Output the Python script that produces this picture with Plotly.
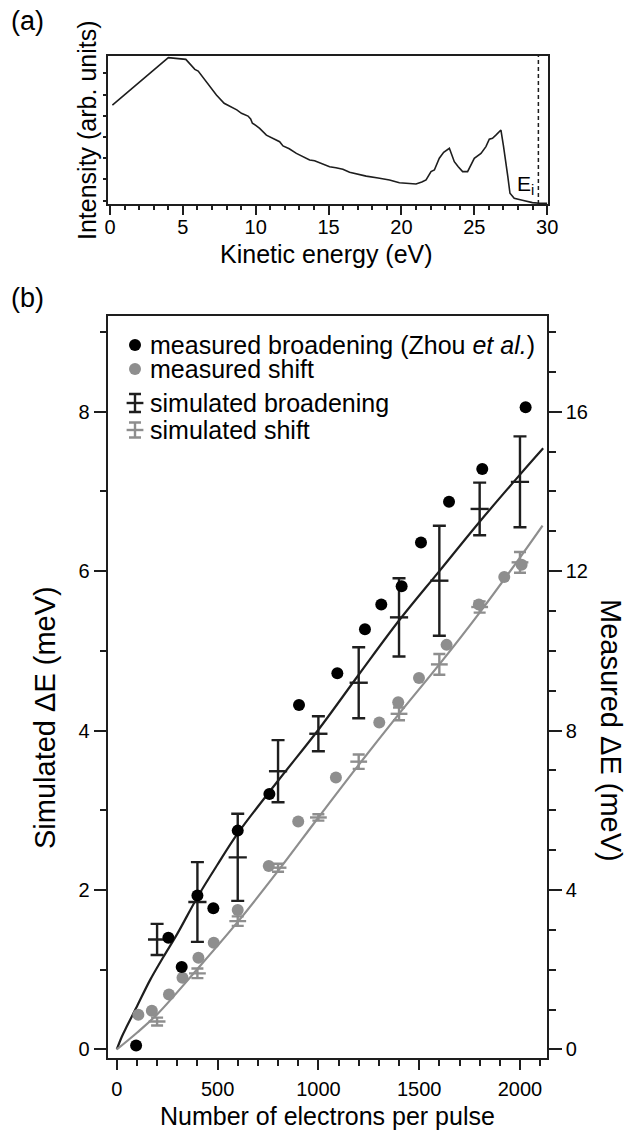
import plotly.graph_objects as go

# ---------------- data ----------------
# panel (a): photoemission spectrum
energy_eV = [0.16, 4.0, 5.2, 5.5, 5.82, 6.05, 6.4, 6.85, 7.3, 7.83, 8.33, 8.7, 9.02, 9.3, 9.47,
             9.65, 9.77, 10.0, 10.27, 10.73, 11.2, 11.64, 11.87, 12.3, 12.79, 13.2, 13.7, 14.04,
             14.5, 15.07, 15.5, 15.98, 16.44, 17.0, 17.58, 18.4, 19.18, 19.86, 20.55, 21.0, 21.4,
             21.69, 22.03, 22.26, 22.6, 22.9, 23.29, 23.63, 23.9, 24.2, 24.54, 24.77, 25.0, 25.46,
             25.8, 26.03, 26.25, 26.5, 26.83, 27.0, 27.12, 27.3, 27.45, 27.74, 28.3, 28.99, 29.5, 30.0]
intensity = [4.51, 6.74, 6.66, 6.45, 6.19, 6.11, 5.78, 5.37, 4.98, 4.59, 4.43, 4.28, 4.12, 4.05, 3.99,
             3.85, 3.65, 3.55, 3.41, 3.09, 2.93, 2.78, 2.58, 2.45, 2.23, 2.08, 1.92, 1.88,
             1.75, 1.60, 1.55, 1.48, 1.34, 1.25, 1.16, 1.07, 0.98, 0.85, 0.82, 0.79, 0.88,
             0.98, 1.37, 1.45, 2.00, 2.28, 2.47, 1.84, 1.60, 1.37, 1.37, 1.68, 2.00, 2.23,
             2.55, 2.90, 2.94, 3.10, 3.33, 2.60, 2.07, 1.15, 0.35, 0.11, 0.02, -0.09, -0.12, -0.12]
E_i = 29.4
a_yticks = [0, 1, 2, 3, 4, 5, 6]

# panel (b)
meas_broad_n = [96, 256, 322, 400, 479, 600, 757, 904, 1094, 1231, 1312, 1413, 1509, 1648, 1813, 2028]
meas_broad_dE = [0.10, 2.80, 2.07, 3.86, 3.54, 5.49, 6.41, 8.64, 9.44, 10.54, 11.16, 11.62, 12.72,
                 13.74, 14.56, 16.11]
meas_shift_n = [107, 174, 259, 326, 405, 481, 600, 754, 900, 1087, 1302, 1396, 1499, 1636, 1796, 1922, 2008]
meas_shift_dE = [0.87, 0.97, 1.38, 1.80, 2.30, 2.68, 3.50, 4.60, 5.72, 6.82, 8.20, 8.71, 9.32, 10.15,
                 11.16, 11.85, 12.16]

sim_n = [200, 400, 600, 800, 1000, 1200, 1400, 1600, 1800, 2000]
sim_broad = [1.38, 1.85, 2.41, 3.49, 3.96, 4.60, 5.42, 5.88, 6.78, 7.12]
sim_broad_err = [0.195, 0.50, 0.546, 0.39, 0.22, 0.445, 0.49, 0.69, 0.33, 0.57]
sim_shift = [0.35, 0.955, 1.61, 2.28, 2.91, 3.61, 4.21, 4.83, 5.55, 6.11]
sim_shift_err = [0.05, 0.06, 0.06, 0.05, 0.04, 0.09, 0.08, 0.13, 0.07, 0.13]

fit_broad_n = [0, 25, 50, 100, 165, 231, 300, 400, 500, 600, 800, 1000, 1200, 1400, 1600, 1800, 2000, 2115]
fit_broad = [0, 0.16, 0.29, 0.54, 0.87, 1.16, 1.45, 1.91, 2.32, 2.71, 3.37, 4.01, 4.70, 5.38, 6.00,
             6.62, 7.21, 7.54]
fit_shift_n = [0, 100, 200, 400, 600, 800, 1000, 1200, 1400, 1600, 1800, 2000, 2112]
fit_shift = [0, 0.21, 0.44, 1.01, 1.60, 2.24, 2.91, 3.57, 4.21, 4.83, 5.48, 6.17, 6.57]

legend_labels = ["measured broadening (Zhou <i>et al.</i>)", "measured shift",
                 "simulated broadening", "simulated shift"]

# ---------------- style ----------------
W, H = 641, 1132
FONT = "Liberation Sans, Arial, Helvetica, sans-serif"
INK = "#1e1e1e"
GREY = "#8e8e8e"


def px(x):
    return x / W


def py(y):
    return 1 - y / H


fig = go.Figure()

# panel (a)
fig.add_trace(go.Scatter(x=energy_eV, y=intensity, mode="lines",
                         line=dict(color=INK, width=1.6), xaxis="x", yaxis="y",
                         showlegend=False, hoverinfo="skip"))
fig.add_shape(type="line", xref="x", yref="y domain", x0=E_i, x1=E_i, y0=0, y1=1,
              line=dict(color=INK, width=1.5, dash="4px,3px"))

# panel (b): fits
fig.add_trace(go.Scatter(x=fit_broad_n, y=fit_broad, mode="lines", line_shape="spline",
                         line=dict(color=INK, width=2.2), xaxis="x2", yaxis="y2", showlegend=False))
fig.add_trace(go.Scatter(x=fit_shift_n, y=fit_shift, mode="lines", line_shape="spline",
                         line=dict(color=GREY, width=2.2), xaxis="x2", yaxis="y2", showlegend=False))
# simulated
fig.add_trace(go.Scatter(x=sim_n, y=sim_broad, mode="markers",
                         marker=dict(symbol="line-ew", size=13, color=INK, line=dict(color=INK, width=2.4)),
                         error_y=dict(type="data", array=sim_broad_err, color=INK, thickness=2.4, width=6.5),
                         xaxis="x2", yaxis="y2", showlegend=False))
fig.add_trace(go.Scatter(x=sim_n, y=sim_shift, mode="markers",
                         marker=dict(symbol="line-ew", size=12, color=GREY, line=dict(color=GREY, width=2.4)),
                         error_y=dict(type="data", array=sim_shift_err, color=GREY, thickness=2.4, width=6),
                         xaxis="x2", yaxis="y2", showlegend=False))
# measured (right axis)
fig.add_trace(go.Scatter(x=meas_shift_n, y=meas_shift_dE, mode="markers",
                         marker=dict(symbol="circle", size=12, color=GREY),
                         xaxis="x2", yaxis="y3", showlegend=False))
fig.add_trace(go.Scatter(x=meas_broad_n, y=meas_broad_dE, mode="markers",
                         marker=dict(symbol="circle", size=12, color="#000000"),
                         xaxis="x2", yaxis="y3", showlegend=False))

# ---------------- legend (drawn in pixel space on a hidden overlay axis) ----------------
leg_x = 135
leg_rows = [345, 369, 403, 430]
fig.add_trace(go.Scatter(x=[leg_x], y=[leg_rows[0]], mode="markers",
                         marker=dict(size=12, color="#000000"), xaxis="x4", yaxis="y4",
                         showlegend=False, hoverinfo="skip"))
fig.add_trace(go.Scatter(x=[leg_x], y=[leg_rows[1]], mode="markers",
                         marker=dict(size=12, color=GREY), xaxis="x4", yaxis="y4",
                         showlegend=False, hoverinfo="skip"))
fig.add_trace(go.Scatter(x=[leg_x], y=[leg_rows[2]], mode="markers",
                         marker=dict(symbol="line-ew", size=12, color=INK, line=dict(color=INK, width=2.4)),
                         error_y=dict(type="data", array=[9], color=INK, thickness=2.4, width=6),
                         xaxis="x4", yaxis="y4", showlegend=False, hoverinfo="skip"))
fig.add_trace(go.Scatter(x=[leg_x], y=[leg_rows[3]], mode="markers",
                         marker=dict(symbol="line-ew", size=12, color=GREY, line=dict(color=GREY, width=2.4)),
                         error_y=dict(type="data", array=[7.5], color=GREY, thickness=2.4, width=6),
                         xaxis="x4", yaxis="y4", showlegend=False, hoverinfo="skip"))

annotations = []
for lab, yy in zip(legend_labels, leg_rows):
    annotations.append(dict(text=lab, x=px(148), y=py(yy), xref="paper", yref="paper",
                            xanchor="left", yanchor="middle", showarrow=False,
                            font=dict(size=25, color="#000", family=FONT)))

# titles and panel labels
def ann(text, x, y, size=25, angle=0):
    annotations.append(dict(text=text, x=px(x), y=py(y), xref="paper", yref="paper",
                            xanchor="center", yanchor="middle", showarrow=False, textangle=angle,
                            font=dict(size=size, color="#000", family=FONT)))

ann("(a)", 27, 21, 27)
ann("(b)", 27, 298, 27)
ann("Intensity (arb. units)", 87, 130, 25, -90)
ann("Kinetic energy (eV)", 326, 254, 25)
ann("Simulated ΔE (meV)", 45, 718, 29, -90)
ann("Measured ΔE (meV)", 611, 730, 29, 90)
ann("Number of electrons per pulse", 327, 1116, 25)
annotations.append(dict(text="E<sub>i</sub>", x=E_i - 0.15, y=0.75, xref="x", yref="y",
                        xanchor="right", yanchor="middle", showarrow=False,
                        font=dict(size=21, color="#000", family=FONT)))

axis_common = dict(showline=True, linecolor=INK, linewidth=1.5, showgrid=False, zeroline=False,
                   ticks="outside", tickcolor=INK, tickwidth=1.5, automargin=False,
                   tickfont=dict(size=20, color="#000", family=FONT))

fig.update_layout(
    width=W, height=H, margin=dict(l=0, r=0, t=0, b=0),
    paper_bgcolor="white", plot_bgcolor="rgba(0,0,0,0)",
    showlegend=False, annotations=annotations,
    xaxis=dict(**axis_common, domain=[px(108.3), px(548)], range=[-0.12, 30.06], anchor="y",
               mirror=True, tickmode="linear", tick0=0, dtick=5, ticklen=9, ticklabelstandoff=-5,
               minor=dict(ticks="outside", dtick=1, ticklen=4, tickcolor=INK, tickwidth=1.5)),
    yaxis=dict(**axis_common, domain=[py(204), py(56)], range=[-0.155, 6.82], anchor="x",
               mirror=True, tickvals=a_yticks, ticklen=4, showticklabels=False),
    xaxis2=dict(**axis_common, domain=[px(108.3), px(547)], range=[-42, 2134], anchor="y2",
                mirror=True, tickmode="linear", tick0=0, dtick=500, ticklen=10, ticklabelstandoff=2,
                minor=dict(ticks="outside", dtick=100, ticklen=6, tickcolor=INK, tickwidth=1.5)),
    yaxis2=dict(**axis_common, domain=[py(1058), py(316)], range=[-0.107, 9.2], anchor="x2",
                side="left", tickmode="linear", tick0=0, dtick=2, ticklen=13,
                minor=dict(ticks="outside", dtick=1, ticklen=7, tickcolor=INK, tickwidth=1.5)),
    yaxis3=dict(**axis_common, domain=[py(1058), py(316)], range=[-0.214, 18.4], anchor="x2",
                overlaying="y2", side="right", tickmode="linear", tick0=0, dtick=4, ticklen=13,
                minor=dict(ticks="outside", dtick=1, ticklen=7, tickcolor=INK, tickwidth=1.5)),
    xaxis4=dict(domain=[0, 1], range=[0, W], visible=False, anchor="y4", fixedrange=True),
    yaxis4=dict(domain=[0, 1], range=[H, 0], visible=False, anchor="x4", fixedrange=True),
)

fig.write_html("out.html")
